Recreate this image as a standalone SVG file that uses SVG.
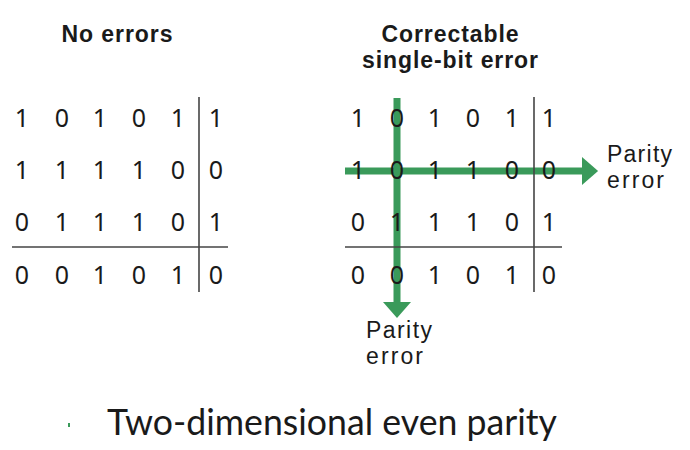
<svg xmlns="http://www.w3.org/2000/svg" width="690" height="450" viewBox="0 0 690 450">
<style>
text{font-family:"Noto Sans","Open Sans","Liberation Sans",sans-serif;fill:#1a1a1a}
.d{font-size:25px;text-anchor:middle}
.t{font-family:"Liberation Sans",Arial,sans-serif;font-size:23px;font-weight:bold;text-anchor:middle}
.l{font-family:"Liberation Sans",Arial,sans-serif;font-size:23px}
.rule{stroke:#444;stroke-width:1.6}
.g{stroke:#3a9a5a;stroke-width:7}
.cap{font-family:"Lato","Open Sans","Liberation Sans",sans-serif;font-size:37px;font-weight:400}
</style>
<defs>
<marker id="ah" markerWidth="4" markerHeight="4" refX="0" refY="2" orient="auto" markerUnits="strokeWidth" viewBox="0 0 4 4">
<path d="M0,0 L2.3,2 L0,4 Z" fill="#3a9a5a"/>
</marker>
</defs>
<g id="connectors">
<line class="g" x1="345" y1="171" x2="582" y2="171" marker-end="url(#ah)"/>
<line class="g" x1="397" y1="98" x2="397" y2="302" marker-end="url(#ah)"/>
</g>
<g id="left-matrix">
<text class="t" x="117" y="42" textLength="111" lengthAdjust="spacing">No errors</text>
<text class="d" x="22" y="127">1</text><text class="d" x="62" y="127">0</text><text class="d" x="100" y="127">1</text><text class="d" x="139" y="127">0</text><text class="d" x="178" y="127">1</text><text class="d" x="216" y="127">1</text>
<text class="d" x="22" y="179">1</text><text class="d" x="62" y="179">1</text><text class="d" x="100" y="179">1</text><text class="d" x="139" y="179">1</text><text class="d" x="178" y="179">0</text><text class="d" x="216" y="179">0</text>
<text class="d" x="22" y="231">0</text><text class="d" x="62" y="231">1</text><text class="d" x="100" y="231">1</text><text class="d" x="139" y="231">1</text><text class="d" x="178" y="231">0</text><text class="d" x="216" y="231">1</text>
<text class="d" x="22" y="284">0</text><text class="d" x="62" y="284">0</text><text class="d" x="100" y="284">1</text><text class="d" x="139" y="284">0</text><text class="d" x="178" y="284">1</text><text class="d" x="216" y="284">0</text>
<line class="rule" x1="199" y1="97" x2="199" y2="292"/>
<line class="rule" x1="12" y1="247" x2="228" y2="247"/>
</g>
<g id="right-matrix">
<text class="t" x="450" y="42" textLength="137" lengthAdjust="spacing">Correctable</text>
<text class="t" x="450" y="68" textLength="176" lengthAdjust="spacing">single-bit error</text>
<text class="d" x="358" y="127">1</text><text class="d" x="397" y="127">0</text><text class="d" x="435" y="127">1</text><text class="d" x="473" y="127">0</text><text class="d" x="512" y="127">1</text><text class="d" x="549" y="127">1</text>
<text class="d" x="358" y="179">1</text><text class="d" x="397" y="179">0</text><text class="d" x="435" y="179">1</text><text class="d" x="473" y="179">1</text><text class="d" x="512" y="179">0</text><text class="d" x="549" y="179">0</text>
<text class="d" x="358" y="231">0</text><text class="d" x="397" y="231">1</text><text class="d" x="435" y="231">1</text><text class="d" x="473" y="231">1</text><text class="d" x="512" y="231">0</text><text class="d" x="549" y="231">1</text>
<text class="d" x="358" y="284">0</text><text class="d" x="397" y="284">0</text><text class="d" x="435" y="284">1</text><text class="d" x="473" y="284">0</text><text class="d" x="512" y="284">1</text><text class="d" x="549" y="284">0</text>
<line class="rule" x1="534" y1="97" x2="534" y2="292"/>
<line class="rule" x1="345" y1="247" x2="562" y2="247"/>
</g>
<g id="labels">
<text class="l" x="607" y="162" textLength="65" lengthAdjust="spacing">Parity</text>
<text class="l" x="607" y="188" textLength="57" lengthAdjust="spacing">error</text>
<text class="l" x="366" y="338" textLength="66" lengthAdjust="spacing">Parity</text>
<text class="l" x="366" y="364" textLength="57" lengthAdjust="spacing">error</text>
</g>
<g id="caption">
<rect x="68" y="423" width="2" height="4" fill="#3a9a5a"/>
<text class="cap" x="107" y="435" textLength="450" lengthAdjust="spacingAndGlyphs">Two-dimensional even parity</text>
</g>
</svg>
